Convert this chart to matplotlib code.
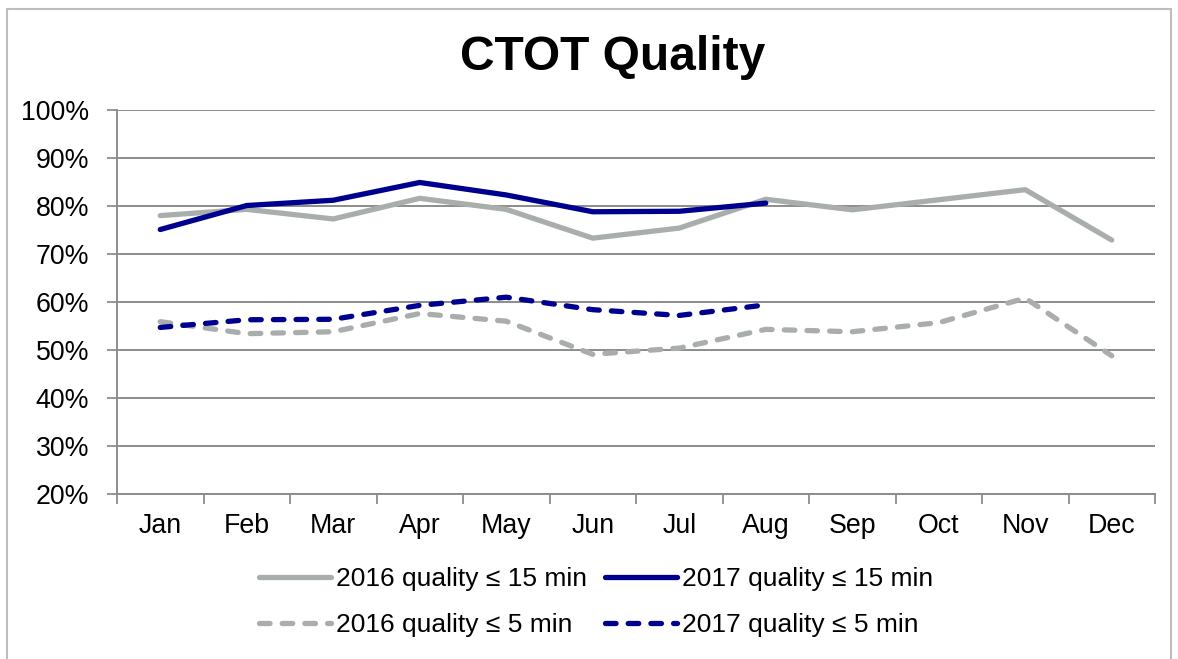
import matplotlib
matplotlib.use("Agg")
import matplotlib.pyplot as plt
from matplotlib.patches import Rectangle
from matplotlib.ticker import FixedLocator, PercentFormatter

plt.rcParams['font.family'] = ['Liberation Sans', 'DejaVu Sans']

months = ["Jan", "Feb", "Mar", "Apr", "May", "Jun", "Jul", "Aug", "Sep", "Oct", "Nov", "Dec"]
q15_2016 = [78.0, 79.3, 77.3, 81.6, 79.3, 73.3, 75.4, 81.4, 79.2, 81.3, 83.4, 72.9]
q15_2017 = [75.1, 80.1, 81.2, 84.9, 82.3, 78.8, 78.9, 80.6]
q5_2016 = [55.9, 53.4, 53.8, 57.6, 56.0, 49.1, 50.4, 54.3, 53.8, 55.7, 60.8, 48.8]
q5_2017 = [54.7, 56.3, 56.4, 59.3, 61.0, 58.4, 57.2, 59.4]
labels = ["2016 quality \u2264 15 min", "2017 quality \u2264 15 min",
          "2016 quality \u2264 5 min", "2017 quality \u2264 5 min"]

W, H = 1178, 659
fig = plt.figure(figsize=(W / 100, H / 100), dpi=100)
ax = fig.add_axes([117 / W, 1 - 494 / H, (1155 - 117) / W, (494 - 110) / H])

gray = "#A9AEAD"
navy = "#00008F"
lw = 3.8

x16 = list(range(len(q15_2016)))
x17 = list(range(len(q15_2017)))
l1, = ax.plot(x16, q15_2016, color=gray, lw=lw, solid_capstyle='round', solid_joinstyle='round', zorder=3)
l2, = ax.plot(x17, q15_2017, color=navy, lw=lw, solid_capstyle='round', solid_joinstyle='round', zorder=4)
l3, = ax.plot(x16, q5_2016, color=gray, lw=lw, ls=(0, (2.0, 2.3)), dash_capstyle='round', zorder=3)
l4, = ax.plot(x17, q5_2017, color=navy, lw=lw, ls=(0, (2.0, 2.3)), dash_capstyle='round', zorder=4)

ax.set_xlim(-0.5, 11.5)
ax.set_ylim(20, 100)
ax.yaxis.set_major_locator(FixedLocator(list(range(20, 101, 10))))
ax.yaxis.set_major_formatter(PercentFormatter(decimals=0))
ax.set_xticks(x16)
ax.set_xticklabels(months)
ax.set_xticks([i - 0.5 for i in range(13)], minor=True)
ax.tick_params(axis='x', which='major', length=0, pad=14, labelsize=19.3)
ax.tick_params(axis='x', which='minor', length=7, width=1.3, color="#8C8C8C", direction='out')
ax.tick_params(axis='y', length=7, width=1.3, color="#8C8C8C", pad=13, labelsize=19.3)

ax.grid(axis='y', color="#8C8C8C", lw=1.4, zorder=1)
ax.set_axisbelow(True)
for s in ['top', 'right']:
    ax.spines[s].set_visible(False)
for s in ['left', 'bottom']:
    ax.spines[s].set_color("#8C8C8C")
    ax.spines[s].set_linewidth(1.4)

fig.text(613 / W, 1 - 57 / H, "CTOT Quality", ha='center', va='center', fontsize=34.5, fontweight='bold')

fig.legend([l1, l3, l2, l4], [labels[0], labels[2], labels[1], labels[3]], ncol=2,
           loc='center', bbox_to_anchor=(596 / W, 1 - 602 / H), frameon=False,
           fontsize=19, handlelength=2.75, handletextpad=0.2, columnspacing=0.65,
           labelspacing=0.85)

fig.patches.append(Rectangle((7 / W, -0.05), (1171 - 7) / W, 1.05 - 9 / H,
                             transform=fig.transFigure, fill=False,
                             edgecolor="#BDBDBD", lw=1.5))

fig.savefig("out.png", dpi=100)
